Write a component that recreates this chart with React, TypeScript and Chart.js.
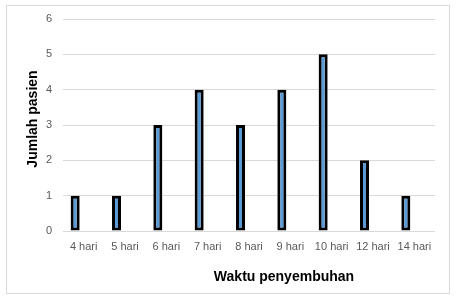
import React, { useEffect, useRef } from "react";
import { Chart, registerables } from "chart.js";

Chart.register(...registerables);

const categories = ["4 hari", "5 hari", "6 hari", "7 hari", "8 hari", "9 hari", "10 hari", "12 hari", "14 hari"];
const patients = [1, 1, 3, 4, 3, 4, 5, 2, 1];
const emptySeries = [null, null, null, null, null, null, null, null, null];
const xTitle = "Waktu penyembuhan";
const yTitle = "Jumlah pasien";

const FONT = "'Liberation Sans', Arial, sans-serif";

const titlePlugin = {
  id: "axisTitles",
  afterDraw(chart: any) {
    const { ctx, chartArea } = chart;
    ctx.save();
    ctx.fillStyle = "#000000";
    ctx.font = `bold 14px ${FONT}`;
    ctx.textAlign = "center";
    ctx.textBaseline = "middle";
    ctx.fillText(xTitle, 284, 277);
    ctx.translate(33, (chartArea.top + chartArea.bottom) / 2 - 6);
    ctx.rotate(-Math.PI / 2);
    ctx.fillText(yTitle, 0, 0);
    ctx.restore();
  },
};

export default function App() {
  const ref = useRef<HTMLCanvasElement>(null);
  useEffect(() => {
    document.body.style.margin = "0";
    const chart = new Chart(ref.current!, {
      type: "bar",
      data: {
        labels: categories,
        datasets: [
          {
            data: patients,
            backgroundColor: "#5B9BD5",
            borderColor: "#000000",
            borderWidth: 3,
            borderSkipped: false,
            categoryPercentage: 0.823,
            barPercentage: 0.53,
          },
          {
            data: emptySeries as any,
            backgroundColor: "#ED7D31",
            categoryPercentage: 0.823,
            barPercentage: 0.53,
          },
        ],
      },
      options: {
        animation: false,
        responsive: false,
        maintainAspectRatio: false,
        layout: { padding: { top: 19, right: 21, left: 0, bottom: 0 } },
        plugins: { legend: { display: false }, tooltip: { enabled: false } },
        scales: {
          x: {
            grid: { display: false, drawTicks: false },
            border: { display: false },
            ticks: { color: "#595959", font: { family: FONT, size: 11 }, padding: 9, maxRotation: 0 },
            afterFit(axis: any) {
              axis.height = 69;
            },
          },
          y: {
            min: 0,
            max: 6,
            grid: { color: "#d9d9d9", drawTicks: false },
            border: { display: false },
            ticks: { stepSize: 1, color: "#595959", font: { family: FONT, size: 11 }, padding: 11 },
            afterFit(axis: any) {
              axis.width = 63;
            },
          },
        },
      },
      plugins: [titlePlugin],
    });
    return () => chart.destroy();
  }, []);
  return (
    <div style={{ position: "relative", width: 456, height: 300, background: "#fff" }}>
      <div
        style={{
          position: "absolute",
          left: 6,
          top: 5,
          width: 444,
          height: 289,
          border: "1px solid #d9d9d9",
          boxSizing: "border-box",
        }}
      />
      <canvas ref={ref} width={456} height={300} style={{ position: "absolute", left: 0, top: 0 }} />
    </div>
  );
}
